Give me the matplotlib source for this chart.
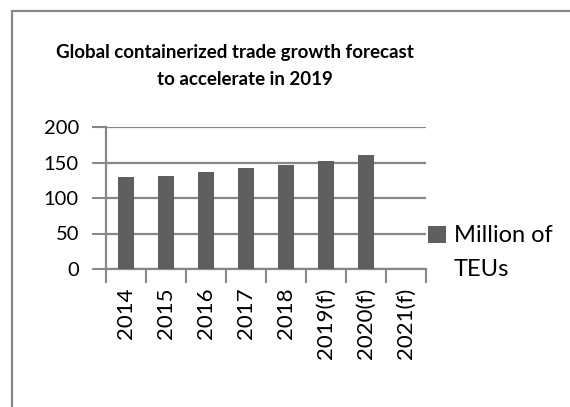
import matplotlib
matplotlib.use("Agg")
import matplotlib.pyplot as plt
from matplotlib.patches import Rectangle
from matplotlib.ticker import FixedLocator
import numpy as np

categories = ["2014", "2015", "2016", "2017", "2018", "2019(f)", "2020(f)", "2021(f)"]
teus = [129, 131, 136, 142, 146, 152.5, 161, np.nan]
series_name = "Million of TEUs"
title_lines = ["Global containerized trade growth forecast", "to accelerate in 2019"]
y_ticks = [0, 50, 100, 150, 200]

W, H = 570, 407
fig = plt.figure(figsize=(W / 100, H / 100), dpi=100)
fig.patch.set_facecolor("white")

FONT = ["Lato", "DejaVu Sans"]
GRID = "#888888"
BAR = "#5f5f5f"

# outer chart frame (clipped by the canvas on the right and bottom)
frame = Rectangle((12 / W, -0.1), 1.2, 1 - 11 / H + 0.1, transform=fig.transFigure,
                  fill=False, edgecolor=GRID, linewidth=1.6)
fig.add_artist(frame)

left, right, top, bottom = 106, 426, 127, 269
ax = fig.add_axes([left / W, 1 - bottom / H, (right - left) / W, (bottom - top) / H])

x = np.arange(len(categories))
ax.bar(x, teus, width=0.42, color=BAR, zorder=3, label=series_name)

ax.set_xlim(-0.5, len(categories) - 0.5)
ax.set_ylim(0, 200)
ax.set_yticks(y_ticks)
ax.set_yticklabels([str(v) for v in y_ticks], family=FONT, fontsize=14.5, color="black")
ax.set_xticks(x)
ax.set_xticklabels(categories, rotation=90, family=FONT, fontsize=16, color="black")
ax.xaxis.set_minor_locator(FixedLocator(np.arange(len(categories) + 1) - 0.5))

ax.tick_params(axis="x", which="major", length=0, pad=13.5)
ax.tick_params(axis="x", which="minor", length=10, width=1.5, color=GRID, direction="out")
ax.tick_params(axis="y", which="major", length=10, width=1.5, color=GRID, pad=9.5)

ax.grid(axis="y", color=GRID, linewidth=1.6, zorder=0)
ax.set_axisbelow(True)
for side in ("top", "right"):
    ax.spines[side].set_visible(False)
for side in ("left", "bottom"):
    ax.spines[side].set_color(GRID)
    ax.spines[side].set_linewidth(1.6)
    ax.spines[side].set_zorder(1)

# title, two centred lines
fig.text(235 / W, 1 - 58 / H, title_lines[0], ha="center", va="baseline",
         family=FONT, fontweight="bold", fontsize=13.5)
fig.text(245 / W, 1 - 85 / H, title_lines[1], ha="center", va="baseline",
         family=FONT, fontweight="bold", fontsize=13.5)

# legend: square key beside the first line, name wrapped onto a second line
first, second = series_name.rsplit(" ", 1)
handle = Rectangle((0, 0), 1, 1, facecolor=BAR)
leg = ax.legend([handle], [first], loc="center left", bbox_to_anchor=(428 / W, 1 - 236 / H),
                bbox_transform=fig.transFigure, frameon=False, handlelength=0.75,
                handleheight=0.75, handletextpad=0.35, borderpad=0, borderaxespad=0,
                prop={"family": FONT, "size": 17})
fig.canvas.draw()
bb = leg.get_texts()[0].get_window_extent()
fig.text(bb.x0 / W, (bb.y0 - 33) / H, second, ha="left", va="bottom",
         family=FONT, fontsize=17)

fig.savefig("out.png", dpi=100)
